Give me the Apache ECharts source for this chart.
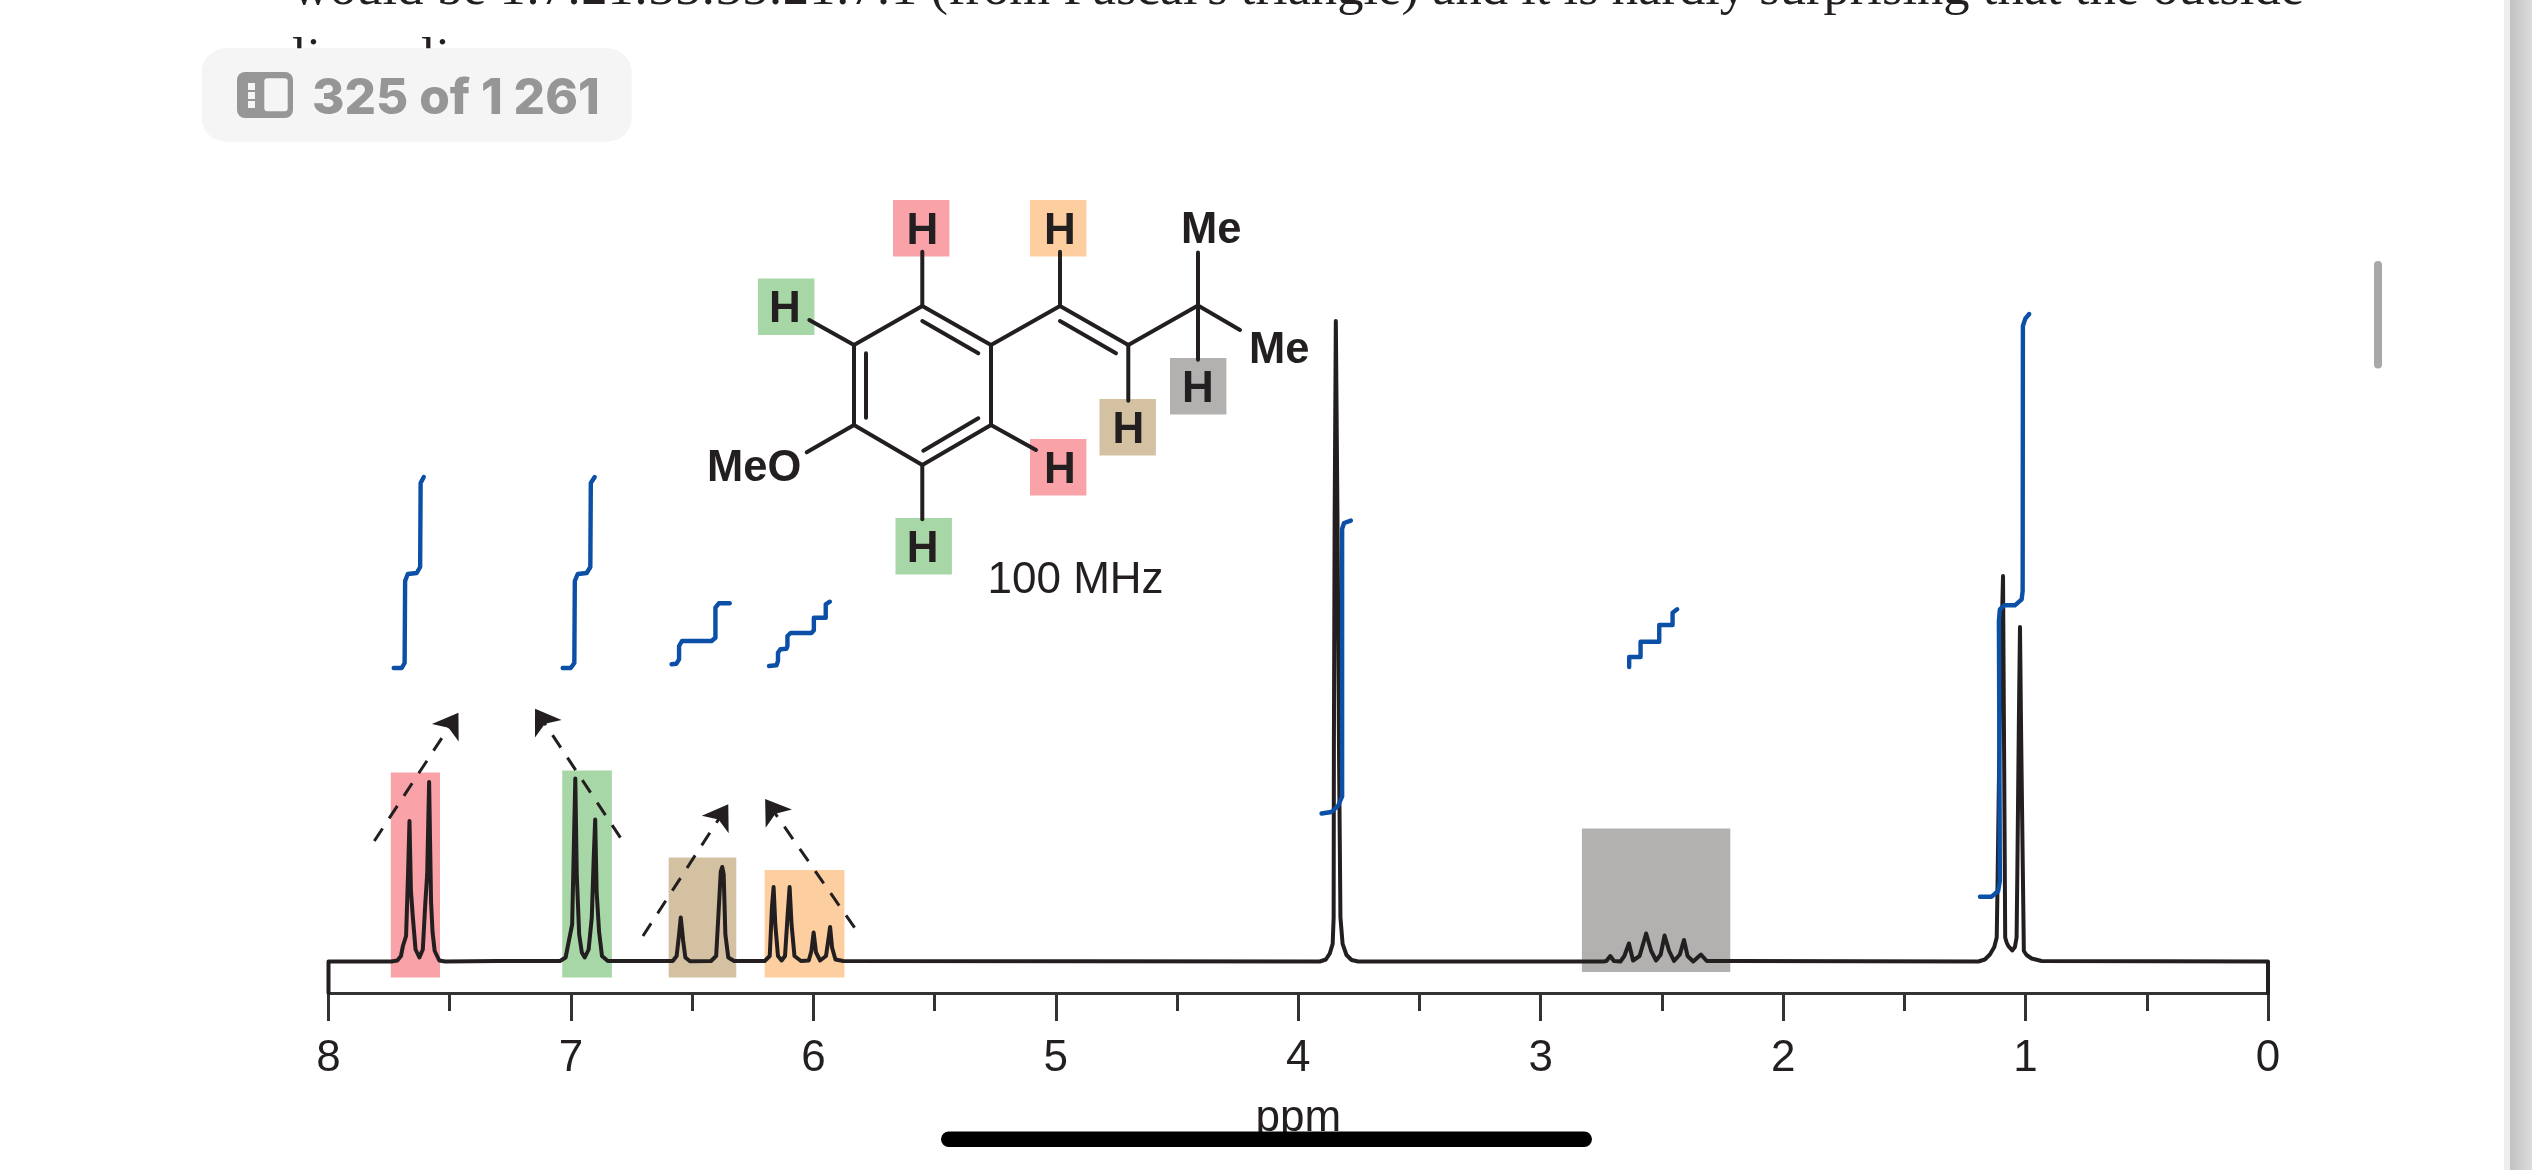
<!DOCTYPE html>
<html><head><meta charset="utf-8">
<style>html,body{margin:0;padding:0;background:#fff}#c{width:2532px;height:1170px}</style>
<script src="https://cdn.jsdelivr.net/npm/echarts@6/dist/echarts.min.js"></script>
</head><body><div id="c"></div>
<script>
// [ppm, intensity] pairs
const frameLeft=[[8,-31.5],[8,0]];
const doubletRed=[[7.740,0],[7.716,1],[7.701,5.5],[7.693,15.5],[7.680,25.5],[7.672,87],[7.666,140.5],[7.660,70.5],[7.652,44],[7.641,12],[7.625,4],[7.611,12],[7.601,57],[7.593,87],[7.585,179.5],[7.577,60],[7.571,30],[7.562,10.5],[7.543,1],[7.519,0],[7.298,0.5]];
const doubletGreen=[[7.045,0.5],[7.022,4],[7.009,20],[6.995,37],[6.989,104],[6.982,183],[6.976,87],[6.966,27],[6.955,9],[6.943,4],[6.927,12],[6.914,44],[6.906,104],[6.900,142],[6.894,70],[6.884,30],[6.872,5.5],[6.848,0.5]];
const doubletTan=[[6.580,0.5],[6.564,5.5],[6.554,27],[6.547,44],[6.537,20.5],[6.528,4],[6.509,0.2],[6.422,0.5],[6.401,5.5],[6.390,54],[6.382,90],[6.376,94.5],[6.370,87],[6.363,27],[6.351,4],[6.327,0.5]];
const quartetOrange=[[6.201,0.5],[6.180,5.5],[6.171,54],[6.164,74.5],[6.157,37],[6.146,5.5],[6.131,1],[6.117,5.5],[6.106,47],[6.098,74.5],[6.090,37],[6.078,5.5],[6.051,0.5],[6.019,1],[6.008,10.5],[5.999,29],[5.989,9],[5.972,1],[5.948,5.5],[5.939,20.5],[5.931,34.5],[5.923,14],[5.909,2],[5.877,0.5]];
const singletOMe=[[3.911,0],[3.886,2],[3.870,8],[3.858,17.6],[3.854,44],[3.853,214],[3.850,437],[3.845,640.4],[3.838,437],[3.832,214],[3.826,44],[3.817,17.6],[3.801,6.5],[3.780,1.5],[3.753,0]];
const septetGrey=[[2.742,0],[2.729,0.5],[2.713,5.5],[2.698,0.5],[2.671,0],[2.655,5.5],[2.636,18],[2.619,1],[2.592,5.5],[2.565,28],[2.544,10.5],[2.524,1],[2.505,7],[2.489,26],[2.470,10.5],[2.450,0.5],[2.426,7],[2.409,21.5],[2.394,5.5],[2.371,0],[2.339,7],[2.315,0.5],[2.189,0.5]];
const doubletMe=[[1.195,0],[1.168,2],[1.147,7],[1.129,14.5],[1.119,24],[1.115,87],[1.106,254],[1.093,385.5],[1.088,187],[1.084,24],[1.078,19],[1.071,15.5],[1.055,11],[1.044,14.5],[1.037,24],[1.034,87],[1.027,254],[1.023,334.5],[1.018,220],[1.007,10.5],[0.996,6.5],[0.975,3],[0.934,0.5]];
const frameRight=[[0,0],[0,-31.5]];

// integration traces
const integralRed=[[7.731,293.5],[7.698,293.5],[7.686,298.5],[7.684,380.5],[7.673,387.5],[7.636,388.5],[7.622,394.5],[7.620,478.5],[7.607,484.5]];
const integralGreen=[[7.034,293.5],[7.001,293.5],[6.986,298.5],[6.984,380.5],[6.972,387.5],[6.935,388.5],[6.920,394.5],[6.918,478.5],[6.902,484.5]];
const integralTan=[[6.585,297.2],[6.565,297.8],[6.554,302.2],[6.554,315.5],[6.542,320.5],[6.420,320.5],[6.404,323.8],[6.404,353.8],[6.390,358.2],[6.345,358.2]];
const integralOrange=[[6.183,295.5],[6.152,296.2],[6.146,300.5],[6.146,308.8],[6.136,312.2],[6.111,312.8],[6.107,315.5],[6.107,325.5],[6.094,328.5],[6.008,328.5],[5.998,331.2],[5.998,343.8],[5.949,343.8],[5.949,357.2],[5.932,359.8]];
const integralOMe=[[3.904,148],[3.863,149.5],[3.835,156],[3.819,165],[3.819,432.8],[3.811,438.5],[3.783,440.9]];
const integralGrey=[[2.635,294.5],[2.635,304.5],[2.588,304.5],[2.588,319.8],[2.511,319.8],[2.511,336.5],[2.456,336.5],[2.456,348.8],[2.437,352.2]];
const integralMe=[[1.188,64.8],[1.140,64.8],[1.113,70.5],[1.106,80.5],[1.110,340.5],[1.106,352.2],[1.088,356.2],[1.044,356.2],[1.016,362.2],[1.012,370.5],[1.011,635.5],[1.001,642.9],[0.985,647.5]];

// shaded bands: [ppm left, ppm right, top, bottom]
const bandRed=[7.743,7.540,189,-16], bandGreen=[7.036,6.831,191,-16], bandTan=[6.597,6.318,104,-16], bandOrange=[6.201,5.872,91.5,-16], bandGrey=[2.830,2.218,133,-10.5];
const bandColors=['#f9a3a8','#a8d7a7','#d3c1a2','#fdcfa0','#b2b1af'];
// dashed coupling arrows: tail, tip
const roofArrows=[[[7.811,120.5],[7.464,248.8]],[[6.796,123.8],[7.148,252.8]],[[6.703,25.5],[6.351,157.2]],[[5.830,33.8],[6.199,162.5]]];
const tickLabels=['8','7','6','5','4','3','2','1','0'];

const ink='#231f20', blue='#0b50a6';
const spectrum=[].concat(frameLeft,doubletRed,doubletGreen,doubletTan,quartetOrange,singletOMe,septetGrey,doubletMe,frameRight);
const integrals=[integralRed,integralGreen,integralTan,integralOrange,integralOMe,integralGrey,integralMe];

// molecule annotation
const bonds=[[922.3,306,991,345],[991,345,991,425],[991,425,922.3,465],[922.3,465,854,425],[854,425,854,345],[854,345,922.3,306],
[922.3,321,978.3,353.3],[866,353.3,866,417.7],[978.3,418.3,923.3,450.7],[922.3,306,922.3,251.7],[922.3,465,922.3,519.3],[854,345,809.3,320],[854,425,806.7,452.3],[991,425,1036,450],
[991,345,1060,306],[1060,306,1060,251.7],[1060,306,1128.3,345],[1060,321,1116,353.3],[1128.3,345,1128.3,400.7],[1128.3,345,1198,305.4],[1198,305.4,1198,252.6],[1198,305.4,1198,359.7],[1198,305.4,1240,330]];
const tiles=[[893,200,0,922.3],[1030,200,3,1060],[758,278.5,1,785],[1099.5,399,2,1128.3],[1170,358,4,1198],[1030,439,0,1060],[895.5,518,1,922.7]];

const g=[];
const serif='52.6px "Liberation Serif"';
g.push({type:'text',z:1,style:{text:"would be 1:7:21:35:35:21:7:1 (from Pascal's triangle) and it is hardly surprising that the outside",x:292,y:-10,font:serif,fill:'#231f20',textVerticalAlign:'middle'}});
g.push({type:'text',z:1,style:{text:'li',x:292,y:60,font:serif,fill:'#231f20',textVerticalAlign:'middle'}});
g.push({type:'text',z:1,style:{text:'li',x:421,y:60,font:serif,fill:'#231f20',textVerticalAlign:'middle'}});
g.push({type:'rect',z:2,shape:{x:201.7,y:48.3,width:430,height:93.4,r:24},style:{fill:'#f5f5f5'}});
g.push({type:'rect',z:3,shape:{x:237,y:72,width:56,height:46,r:8},style:{fill:'#969696'}});
g.push({type:'rect',z:4,shape:{x:264.3,y:78.3,width:23.4,height:33,r:3},style:{fill:'#f5f5f5'}});
[83,92,101].forEach(y=>g.push({type:'rect',z:4,shape:{x:248,y:y,width:7,height:7},style:{fill:'#f5f5f5'}}));
g.push({type:'text',z:4,style:{text:'325 of 1 261',x:312,y:99,font:'800 49.5px Inter',fill:'#969696',textVerticalAlign:'middle'}});
g.push({type:'rect',z:2,shape:{x:2374,y:261,width:8,height:107.5,r:4},style:{fill:'#a8a8a8'}});
tiles.forEach(t=>{
  g.push({type:'rect',z:2,shape:{x:t[0],y:t[1],width:56.4,height:56.4},style:{fill:bandColors[t[2]]}});
  g.push({type:'text',z:6,style:{text:'H',x:t[3],y:t[1]+31.5,font:'bold 44px "Liberation Sans"',fill:ink,textAlign:'center',textVerticalAlign:'middle'}});
});
bonds.forEach(b=>g.push({type:'line',z:5,shape:{x1:b[0],y1:b[1],x2:b[2],y2:b[3]},style:{stroke:ink,lineWidth:4,lineCap:'round'}}));
[['MeO',707,469],['Me',1181,231],['Me',1249,351]].forEach(t=>g.push({type:'text',z:6,style:{text:t[0],x:t[1],y:t[2],font:'bold 43.5px "Liberation Sans"',fill:ink,textVerticalAlign:'middle'}}));
g.push({type:'text',z:6,style:{text:'100 MHz',x:987.5,y:581,font:'44px "Liberation Sans"',fill:ink,textVerticalAlign:'middle'}});
g.push({type:'rect',z:50,shape:{x:941,y:1131.5,width:651,height:15.6,r:7.8},style:{fill:'#000'}});
g.push({type:'rect',z:2,shape:{x:2504,y:0,width:6,height:1170},style:{fill:'#eeeeee'}});
g.push({type:'rect',z:2,shape:{x:2510,y:0,width:22,height:1170},style:{fill:new echarts.graphic.LinearGradient(0,0,1,0,[{offset:0,color:'#c2c2c2'},{offset:1,color:'#dcdcdc'}])}});

const series=[
 {type:'custom',name:'bands',coordinateSystem:'cartesian2d',z:1,silent:true,clip:false,
  data:[bandRed,bandGreen,bandTan,bandOrange,bandGrey],
  renderItem:(p,api)=>{
    const a=api.coord([api.value(0),api.value(2)]),b=api.coord([api.value(1),api.value(3)]);
    return {type:'rect',shape:{x:a[0],y:a[1],width:b[0]-a[0],height:b[1]-a[1]},style:{fill:bandColors[p.dataIndex]}};
  }},
 {type:'line',name:'spectrum',data:spectrum,showSymbol:false,symbol:'none',animation:false,smooth:false,sampling:false,clip:false,z:3,silent:true,
  lineStyle:{color:ink,width:4,join:'round',cap:'round'}},
 {type:'lines',name:'arrows',coordinateSystem:'cartesian2d',z:4,silent:true,symbol:['none','arrow'],symbolSize:[0,24],
  lineStyle:{color:ink,width:3,type:[15,12],opacity:1},itemStyle:{color:ink},
  data:roofArrows.map(c=>({coords:c}))}
];
integrals.forEach((d,i)=>series.push({type:'line',name:'integral'+i,data:d,showSymbol:false,symbol:'none',animation:false,clip:false,z:5,silent:true,lineStyle:{color:blue,width:4.4,join:'round',cap:'round'}}));

const chart=echarts.init(document.getElementById('c'),null,{renderer:'canvas',width:2532,height:1170});
chart.setOption({
 animation:false,backgroundColor:'#fff',
 grid:{left:328.5,right:264,top:261.5,bottom:177,containLabel:false},
 xAxis:{type:'value',inverse:true,min:0,max:8,interval:1,
  axisLine:{show:true,onZero:false,lineStyle:{color:'#333',width:3}},
  axisTick:{show:true,length:28,lineStyle:{color:'#333',width:3}},
  minorTick:{show:true,splitNumber:2,length:18,lineStyle:{color:'#333',width:3}},
  splitLine:{show:false},minorSplitLine:{show:false},
  axisLabel:{margin:44,fontSize:44,fontFamily:'Liberation Sans',color:ink,formatter:v=>tickLabels[8-v],hideOverlap:false,showMinLabel:true,showMaxLabel:true},
  name:'ppm',nameLocation:'center',nameGap:104,nameTextStyle:{fontSize:44,fontFamily:'Liberation Sans',color:ink}},
 yAxis:{type:'value',min:-31.5,max:700,show:false,scale:true},
 series:series,
 graphic:{elements:g}
});
</script></body></html>
